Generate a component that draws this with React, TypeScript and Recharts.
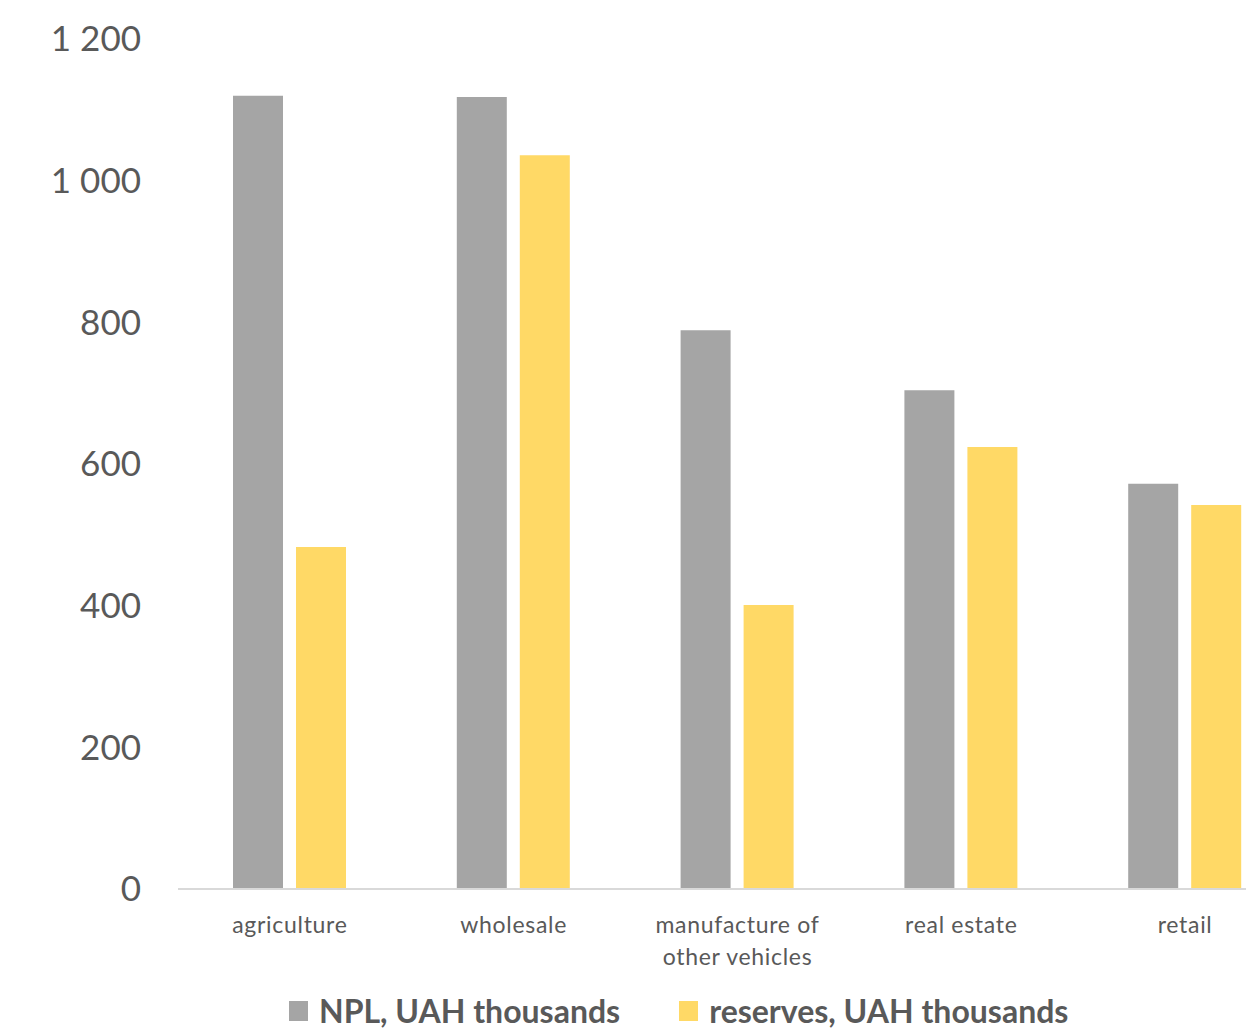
import React from 'react';
import { BarChart, Bar, XAxis, YAxis, Text } from 'recharts';

// sectors and their values, UAH thousands
const categories = ['agriculture', 'wholesale', 'manufacture of other vehicles', 'real estate', 'retail'];
const nplValues = [1120, 1118, 789, 704, 572];
const reserveValues = [483, 1036, 401, 624, 542];
const yTicks = [0, 200, 400, 600, 800, 1000, 1200];

const series = [
  { key: 'npl', name: 'NPL, UAH thousands', color: '#A5A5A5' },
  { key: 'reserves', name: 'reserves, UAH thousands', color: '#FFD966' }
];

const chartData = categories.map((name, i) => ({
  name,
  npl: nplValues[i],
  reserves: reserveValues[i]
}));

const FONT = 'Lato, "Open Sans", sans-serif';
const TEXT_COLOR = '#595959';

const formatTick = (v: number) => v.toLocaleString('en-US').replace(/,/g, ' ');

const CategoryTick = (props: any) => {
  const { x, y, payload } = props;
  const style = { fontSize: 23, fontFamily: FONT, letterSpacing: 0.7 };
  return (
    <Text
      x={x}
      y={y + 20}
      width={140}
      textAnchor="middle"
      verticalAnchor="start"
      lineHeight={32}
      fill={TEXT_COLOR}
      style={style}
    >
      {payload.value}
    </Text>
  );
};

export default function App() {
  return (
    <div style={{ position: 'fixed', left: 0, top: 0, width: 1246, height: 1029, overflow: 'hidden', background: '#fff' }}>
      <BarChart
        width={1300}
        height={1029}
        data={chartData}
        margin={{ top: 39, right: 3, left: 0, bottom: 0 }}
        barCategoryGap={55}
        barGap={13}
      >
        <XAxis
          dataKey="name"
          height={140}
          tickLine={false}
          axisLine={{ stroke: '#D9D9D9', strokeWidth: 2 }}
          tick={<CategoryTick />}
          interval={0}
        />
        <YAxis
          width={178}
          domain={[0, 1200]}
          ticks={yTicks}
          axisLine={false}
          tickLine={false}
          tickMargin={31}
          tickFormatter={formatTick}
          tick={{ fill: TEXT_COLOR, fontSize: 35, fontFamily: FONT }}
        />
        {series.map(s => (
          <Bar key={s.key} dataKey={s.key} name={s.name} fill={s.color} barSize={50} isAnimationActive={false} />
        ))}
      </BarChart>
      <div style={{ position: 'absolute', left: 289, top: 995, height: 32, lineHeight: '32px', display: 'flex', alignItems: 'center', fontFamily: FONT, fontWeight: 700, fontSize: 32, color: TEXT_COLOR }}>
        {series.map((s, i) => (
          <div key={s.key} style={{ display: 'flex', alignItems: 'center', marginRight: i === 0 ? 59 : 0 }}>
            <span style={{ display: 'inline-block', width: 19, height: 20, background: s.color, marginRight: 11 }} />
            <span>{s.name}</span>
          </div>
        ))}
      </div>
    </div>
  );
}
